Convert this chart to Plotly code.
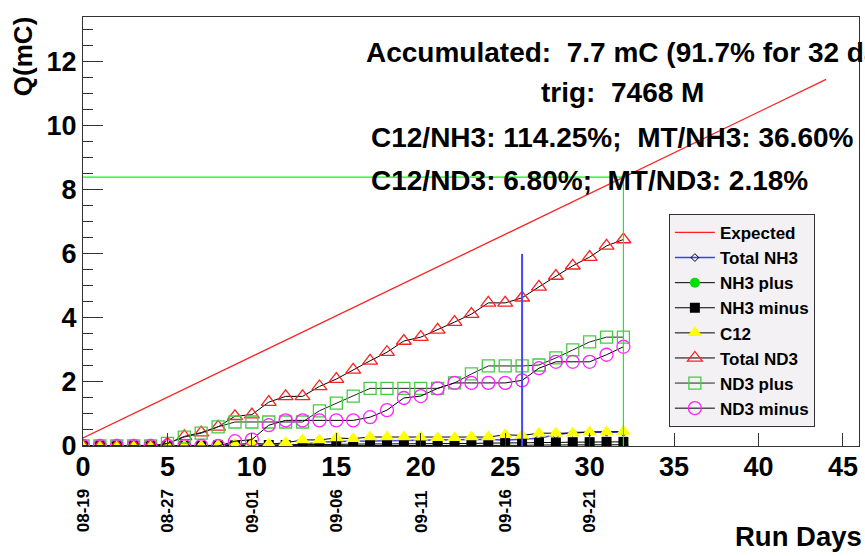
import plotly.graph_objects as go

# ---- data -------------------------------------------------------------
days = list(range(33))

total_nd3 = [0, 0, 0, 0, 0, 0.08, 0.30, 0.42, 0.60, 0.93, 0.98, 1.37, 1.55, 1.55,
             1.86, 2.09, 2.38, 2.66, 2.93, 3.28, 3.40, 3.63, 3.87, 4.12, 4.47,
             4.47, 4.63, 4.97, 5.31, 5.63, 5.90, 6.25, 6.45]
nd3_plus = [0, 0, 0, 0, 0, 0.08, 0.28, 0.40, 0.60, 0.75, 0.75, 0.75, 0.75, 0.75,
            1.10, 1.34, 1.56, 1.80, 1.80, 1.80, 1.80, 1.80, 1.97, 2.25, 2.50,
            2.50, 2.50, 2.53, 2.75, 3.00, 3.25, 3.40, 3.40]
nd3_minus = [0, 0, 0, 0, 0, 0, 0, 0, 0, 0.15, 0.20, 0.65, 0.80, 0.80, 0.80, 0.80,
             0.80, 0.90, 1.12, 1.50, 1.56, 1.80, 1.97, 1.97, 1.97, 1.97, 2.05,
             2.43, 2.63, 2.63, 2.63, 2.85, 3.10]
c12 = [0, 0, 0, 0, 0, 0, 0, 0, 0.02, 0.05, 0.08, 0.06, 0.10, 0.19, 0.19, 0.25,
       0.23, 0.28, 0.28, 0.28, 0.27, 0.26, 0.26, 0.28, 0.28, 0.35, 0.33, 0.40,
       0.40, 0.40, 0.44, 0.44, 0.45]
nh3_minus = [0, 0, 0, 0, 0, 0, 0, 0, 0.02, 0.02, 0.03, 0.03, 0.03, 0.05, 0.05,
             0.05, 0.06, 0.06, 0.06, 0.07, 0.07, 0.08, 0.08, 0.08, 0.09, 0.09,
             0.10, 0.10, 0.11, 0.12, 0.12, 0.13, 0.13]
nh3_plus = [0, 0, 0, 0, 0, 0, 0, 0, 0, 0, 0, 0, 0, 0.01, 0.01, 0.01, 0.01, 0.01,
            0.01, 0.01, 0.01, 0.02, 0.02, 0.02, 0.02, 0.02, 0.02, 0.03, 0.03,
            0.03, 0.04, 0.04, 0.04]
total_nh3 = [0, 0, 0, 0, 0, 0, 0, 0, 0, 0, 0, 0, 0, 0.05, 0.12, 0.14, 0.15, 0.15,
             0.16, 0.17, 0.18, 0.20, 0.20, 0.20, 0.21, 0.18, 0.20, 0.24, 0.35,
             0.42, 0.43, 0.43, 0.43]

expected_days = [0, 44]
expected_q = [0.25, 11.45]

goal_day = 32          # days of running so far
goal_q = 8.4           # expected charge after goal_day
marker_day = 26        # blue reference marker
marker_top = 6.0

date_days = [0, 5, 10, 15, 20, 25, 30]
date_labels = ["08-19", "08-27", "09-01", "09-06", "09-11", "09-16", "09-21"]

info_lines = [
    "Accumulated:\u00a0 7.7 mC (91.7% for 32 days)",
    "trig:\u00a0 7468 M",
    "C12/NH3: 114.25%;\u00a0 MT/NH3: 36.60%",
    "C12/ND3: 6.80%;\u00a0 MT/ND3: 2.18%",
]

# ---- figure -----------------------------------------------------------
FONT = "Liberation Sans, Arial, Helvetica, sans-serif"

fig = go.Figure()

fig.add_trace(go.Scatter(x=expected_days, y=expected_q, mode="lines",
                         name="Expected", line=dict(color="#ff2020", width=1.3)))
fig.add_trace(go.Scatter(x=days, y=total_nh3, mode="lines+markers", name="Total NH3",
                         line=dict(color="#3c3cff", width=1.5),
                         marker=dict(symbol="diamond-open", size=6, color="black",
                                     line=dict(width=1))))
fig.add_trace(go.Scatter(x=days, y=nh3_plus, mode="lines+markers", name="NH3 plus",
                         line=dict(color="black", width=1),
                         marker=dict(symbol="circle", size=10, color="#00e000")))
fig.add_trace(go.Scatter(x=days, y=nh3_minus, mode="lines+markers", name="NH3 minus",
                         line=dict(color="black", width=1),
                         marker=dict(symbol="square", size=10, color="black")))
fig.add_trace(go.Scatter(x=days, y=c12, mode="lines+markers", name="C12",
                         line=dict(color="black", width=1),
                         marker=dict(symbol="triangle-up", size=13, color="#ffff00",
                                     line=dict(width=0))))
fig.add_trace(go.Scatter(x=days, y=total_nd3, mode="lines+markers", name="Total ND3",
                         line=dict(color="black", width=1),
                         marker=dict(symbol="triangle-up-open", size=13, color="#ff2020",
                                     line=dict(width=1.3))))
fig.add_trace(go.Scatter(x=days, y=nd3_plus, mode="lines+markers", name="ND3 plus",
                         line=dict(color="#222222", width=1),
                         marker=dict(symbol="square-open", size=12, color="#44cc44",
                                     line=dict(width=1.3))))
fig.add_trace(go.Scatter(x=days, y=nd3_minus, mode="lines+markers", name="ND3 minus",
                         line=dict(color="black", width=1),
                         marker=dict(symbol="circle-open", size=13, color="#ff22ff",
                                     line=dict(width=1.3))))

# expected-charge guide at the current run day
fig.add_trace(go.Scatter(x=[0, goal_day, goal_day], y=[goal_q, goal_q, 0],
                         mode="lines", showlegend=False, hoverinfo="skip",
                         line=dict(color="#00ff00", width=1.2)))
fig.add_trace(go.Scatter(x=[marker_day, marker_day], y=[0, marker_top],
                         mode="lines", showlegend=False, hoverinfo="skip",
                         line=dict(color="#4646ff", width=2)))

annotations = []
# run summary text
info_pos = [(0.362, 0.918, "left"), (0.695, 0.823, "center"),
            (0.368, 0.720, "left"), (0.368, 0.620, "left")]
for (px, py, anchor), txt in zip(info_pos, info_lines):
    annotations.append(dict(xref="paper", yref="paper", x=px, y=py, text=txt,
                            xanchor=anchor, yanchor="middle", showarrow=False,
                            font=dict(family=FONT, size=28, color="black",
                                      weight="bold")))
# calendar dates under the day axis
for d, lab in zip(date_days, date_labels):
    annotations.append(dict(xref="x", yref="paper", x=d, y=-0.152, text=lab,
                            textangle=-90, xanchor="center", yanchor="middle",
                            showarrow=False,
                            font=dict(family=FONT, size=17, color="black",
                                      weight="bold")))
# axis titles
annotations.append(dict(xref="paper", yref="paper", x=1.006, y=-0.212, text="Run Days",
                        xanchor="right", yanchor="middle", showarrow=False,
                        font=dict(family=FONT, size=27.5, color="black", weight="bold")))
annotations.append(dict(xref="paper", yref="paper", x=-0.077, y=0.907, text="Q(mC)",
                        textangle=-90, xanchor="center", yanchor="middle",
                        showarrow=False,
                        font=dict(family=FONT, size=26, color="black", weight="bold")))

fig.update_layout(
    width=865, height=556,
    margin=dict(l=83, r=6, t=17, b=110),
    paper_bgcolor="white", plot_bgcolor="white",
    font=dict(family=FONT, color="black"),
    annotations=annotations,
    legend=dict(x=0.755, y=0.541, xanchor="left", yanchor="top",
                bgcolor="#f4f1f4", bordercolor="#333333", borderwidth=1,
                font=dict(family=FONT, size=17, color="black", weight="bold"),
                tracegroupgap=0, itemwidth=40),
    xaxis=dict(range=[0, 45.95], showgrid=False, zeroline=False,
               showline=True, mirror=True, linecolor="#333333", linewidth=1,
               ticks="inside", ticklen=13, tickcolor="#333333",
               tickmode="array", tickvals=[0, 5, 10, 15, 20, 25, 30, 35, 40, 45],
               ticklabelstandoff=-3,
               tickfont=dict(family=FONT, size=27, color="black", weight="bold")),
    yaxis=dict(range=[0, 13.4], showgrid=False, zeroline=False,
               showline=True, mirror=True, linecolor="#333333", linewidth=1,
               ticks="inside", ticklen=20, tickcolor="#333333", dtick=2,
               minor=dict(dtick=0.5, ticks="inside", ticklen=10, tickcolor="#333333"),
               ticklabelstandoff=0,
               tickfont=dict(family=FONT, size=27, color="black", weight="bold")),
)

fig.write_html("out.html")
